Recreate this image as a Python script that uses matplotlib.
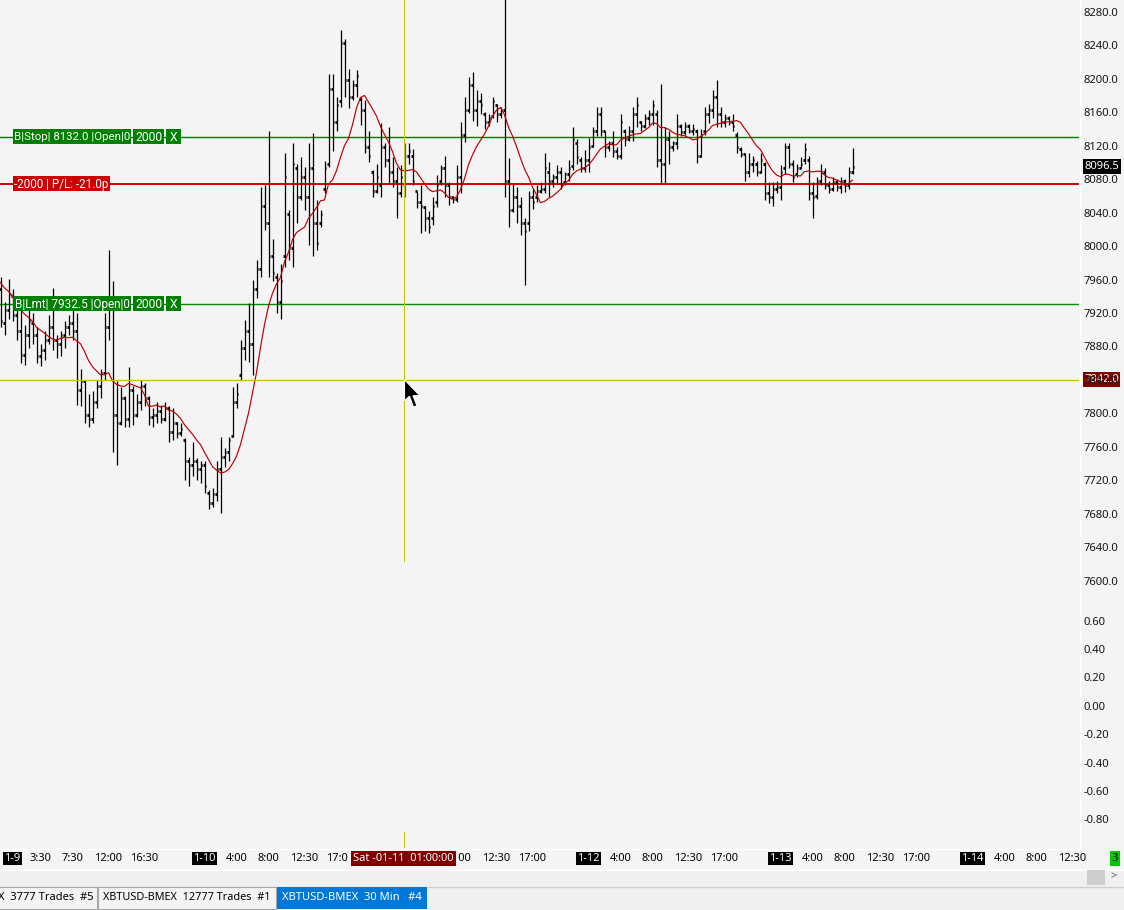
import matplotlib
matplotlib.use("Agg")
import matplotlib.pyplot as plt
import matplotlib.transforms as mtransforms
from matplotlib.patches import Rectangle, Polygon
from matplotlib.lines import Line2D
import numpy as np
import pandas as pd

plt.rcParams['font.family'] = ['Noto Sans', 'DejaVu Sans']

# -------------------------
# Data: XBTUSD-BMEX 30 min bars, bar 0 = 1-9 00:00
# -------------------------
first_bar = -3

opens = [
    7950, 7910, 7925, 7942, 7920, 7900, 7872, 7895, 7910, 7895,
    7870, 7878, 7890, 7905, 7890, 7885, 7895, 7905, 7910, 7900,
    7830, 7840, 7800, 7795, 7815, 7835, 7850, 7905, 7935, 7800,
    7790, 7820, 7795, 7830, 7800, 7815, 7835, 7820, 7798, 7800,
    7805, 7795, 7808, 7780, 7790, 7778, 7770, 7745, 7740, 7745,
    7735, 7740, 7707, 7695, 7705, 7735, 7750, 7755, 7775, 7815,
    7848, 7880, 7900, 7885, 7950, 7975, 8050, 8030, 7990, 7965,
    7935, 7990, 8040, 8000, 8095, 8060, 8085, 8060, 8095, 8030,
    8030, 8070, 8100, 8190, 8150, 8175, 8245, 8200, 8180, 8195,
    8178, 8165, 8120, 8090, 8068, 8075, 8120, 8105, 8090, 8080,
    8065, 8075, 8110, 8110, 8068, 8055, 8048, 8035, 8035, 8055,
    8080, 8095, 8075, 8060, 8058, 8085, 8135, 8165, 8195, 8165,
    8175, 8160, 8150, 8158, 8170, 8160, 8165, 8080, 8045, 8060,
    8050, 8030, 8030, 8060, 8060, 8068, 8070, 8090, 8080, 8085,
    8090, 8078, 8088, 8098, 8125, 8105, 8095, 8105, 8122, 8140,
    8160, 8140, 8120, 8125, 8115, 8110, 8140, 8130, 8140, 8160,
    8150, 8145, 8155, 8160, 8160, 8105, 8100, 8130, 8120, 8125,
    8145, 8138, 8145, 8140, 8140, 8110, 8140, 8160, 8165, 8180,
    8160, 8150, 8155, 8150, 8135, 8118, 8112, 8090, 8100, 8100,
    8090, 8100, 8065, 8060, 8070, 8072, 8095, 8120, 8100, 8088,
    8095, 8105, 8105, 8065, 8062, 8080, 8090, 8075, 8070, 8078,
    8072, 8080, 8075, 8090,
]
highs = [
    7965, 7935, 7962, 7950, 7935, 7928, 7908, 7925, 7922, 7905,
    7885, 7900, 7920, 7952, 7895, 7900, 7912, 7920, 7925, 7922,
    7855, 7842, 7825, 7828, 7842, 7855, 7922, 7997, 7960, 7840,
    7833, 7822, 7857, 7835, 7825, 7842, 7838, 7822, 7808, 7815,
    7812, 7815, 7810, 7808, 7792, 7790, 7772, 7750, 7768, 7748,
    7745, 7745, 7710, 7713, 7745, 7774, 7760, 7774, 7833, 7838,
    7890, 7913, 7934, 7961, 7985, 8072, 8075, 8140, 8010, 7970,
    7980, 8113, 8045, 8125, 8100, 8108, 8096, 8125, 8137, 8057,
    8045, 8104, 8208, 8208, 8180, 8260, 8250, 8214, 8200, 8212,
    8180, 8176, 8140, 8093, 8100, 8149, 8125, 8144, 8108, 8096,
    8099, 8125, 8125, 8118, 8068, 8075, 8050, 8044, 8060, 8087,
    8099, 8110, 8078, 8062, 8099, 8150, 8180, 8204, 8210, 8188,
    8185, 8162, 8160, 8180, 8172, 8168, 8310, 8107, 8076, 8072,
    8060, 8036, 8068, 8070, 8075, 8078, 8113, 8102, 8088, 8099,
    8097, 8090, 8105, 8144, 8130, 8108, 8117, 8131, 8144, 8168,
    8168, 8140, 8128, 8140, 8120, 8160, 8142, 8145, 8168, 8180,
    8152, 8160, 8165, 8176, 8164, 8196, 8144, 8140, 8128, 8160,
    8148, 8150, 8148, 8148, 8142, 8142, 8168, 8172, 8188, 8200,
    8168, 8160, 8158, 8160, 8138, 8120, 8113, 8113, 8110, 8104,
    8113, 8102, 8078, 8078, 8080, 8099, 8125, 8125, 8105, 8100,
    8108, 8125, 8110, 8078, 8085, 8100, 8095, 8080, 8085, 8082,
    8085, 8082, 8096, 8119,
]
lows = [
    7905, 7895, 7915, 7912, 7890, 7862, 7860, 7880, 7885, 7862,
    7858, 7865, 7885, 7878, 7868, 7870, 7880, 7895, 7890, 7812,
    7810, 7790, 7785, 7790, 7808, 7820, 7842, 7890, 7755, 7740,
    7788, 7786, 7786, 7788, 7798, 7806, 7810, 7788, 7786, 7790,
    7790, 7793, 7767, 7770, 7772, 7775, 7722, 7715, 7727, 7722,
    7718, 7706, 7687, 7690, 7697, 7683, 7738, 7745, 7774, 7808,
    7842, 7866, 7863, 7848, 7940, 7965, 8021, 7965, 7960, 7922,
    7915, 7977, 7985, 7977, 8030, 8057, 8045, 8003, 7990, 7997,
    8025, 8065, 8096, 8115, 8140, 8168, 8180, 8167, 8176, 8180,
    8147, 8113, 8102, 8060, 8065, 8060, 8096, 8077, 8072, 8036,
    8060, 8060, 8100, 8075, 8047, 8017, 8020, 8017, 8027, 8048,
    8075, 8060, 8051, 8053, 8055, 8065, 8126, 8161, 8152, 8145,
    8160, 8142, 8145, 8155, 8150, 8155, 8060, 8025, 8043, 8030,
    8015, 7955, 8020, 8046, 8055, 8065, 8065, 8060, 8072, 8076,
    8070, 8075, 8080, 8093, 8100, 8090, 8090, 8090, 8120, 8133,
    8133, 8108, 8115, 8108, 8106, 8106, 8122, 8128, 8128, 8144,
    8140, 8143, 8147, 8147, 8096, 8077, 8077, 8100, 8115, 8118,
    8133, 8135, 8137, 8135, 8101, 8108, 8135, 8149, 8155, 8144,
    8144, 8144, 8147, 8140, 8113, 8108, 8080, 8085, 8090, 8086,
    8089, 8057, 8053, 8050, 8065, 8057, 8088, 8095, 8078, 8085,
    8095, 8100, 8057, 8035, 8058, 8075, 8070, 8065, 8068, 8068,
    8065, 8067, 8070, 8088,
]
closes = [
    7912, 7925, 7945, 7920, 7900, 7872, 7895, 7912, 7895, 7870,
    7878, 7890, 7905, 7890, 7885, 7895, 7905, 7910, 7900, 7830,
    7840, 7800, 7795, 7815, 7835, 7850, 7905, 7935, 7800, 7790,
    7820, 7795, 7830, 7800, 7815, 7835, 7820, 7798, 7800, 7805,
    7795, 7808, 7780, 7790, 7778, 7783, 7745, 7740, 7745, 7735,
    7740, 7715, 7695, 7705, 7735, 7750, 7755, 7770, 7815, 7825,
    7880, 7900, 7885, 7950, 7975, 8050, 8030, 7990, 7970, 7935,
    7960, 8085, 8000, 8100, 8060, 8085, 8060, 8095, 8030, 8005,
    8040, 8095, 8190, 8150, 8170, 8245, 8200, 8180, 8195, 8205,
    8165, 8120, 8110, 8068, 8085, 8120, 8105, 8090, 8080, 8065,
    8085, 8110, 8115, 8080, 8055, 8050, 8035, 8025, 8050, 8075,
    8095, 8075, 8060, 8058, 8085, 8135, 8165, 8195, 8165, 8175,
    8170, 8150, 8155, 8175, 8160, 8165, 8080, 8045, 8060, 8050,
    8030, 8020, 8060, 8055, 8068, 8070, 8095, 8080, 8085, 8090,
    8075, 8088, 8095, 8130, 8108, 8095, 8105, 8120, 8140, 8160,
    8140, 8120, 8125, 8115, 8110, 8150, 8130, 8140, 8160, 8170,
    8145, 8155, 8160, 8170, 8105, 8100, 8130, 8120, 8125, 8145,
    8138, 8145, 8140, 8142, 8110, 8135, 8160, 8165, 8180, 8160,
    8150, 8155, 8150, 8145, 8120, 8112, 8090, 8100, 8105, 8090,
    8105, 8065, 8060, 8070, 8072, 8090, 8120, 8100, 8085, 8095,
    8100, 8118, 8065, 8060, 8080, 8090, 8075, 8070, 8078, 8072,
    8080, 8075, 8090, 8096.5,
]
# closes of the bars just left of the visible window (moving average warm-up)
prior_closes = [7990, 7985, 7975, 7970, 7960, 7955, 7950, 7945, 7940]
ma_len = 10

stop_price = 8132.0
pos_price = 8075.5
limit_price = 7932.5
cross_price = 7842.0
cross_bar = 98
last_price = 8096.5

price_ticks = [8280, 8240, 8200, 8160, 8120, 8080, 8040, 8000, 7960,
               7920, 7880, 7840, 7800, 7760, 7720, 7680, 7640, 7600]
lower_ticks = [0.60, 0.40, 0.20, 0.00, -0.20, -0.40, -0.60, -0.80]

time_bars = [7, 15, 24, 33, 56, 64, 73, 82, 104, 112, 121, 130,
             152, 160, 169, 178, 200, 208, 217, 226, 248, 256, 265]
time_labels = ["3:30", "7:30", "12:00", "16:30", "4:00", "8:00", "12:30", "17:00",
               "4:00", "8:00", "12:30", "17:00", "4:00", "8:00", "12:30", "17:00",
               "4:00", "8:00", "12:30", "17:00", "4:00", "8:00", "12:30"]
date_bars = [0, 48, 96, 144, 192, 240]
date_labels = ["1-9", "1-10", "1-11", "1-12", "1-13", "1-14"]

tabs = ["X  3777 Trades  #5", "XBTUSD-BMEX  12777 Trades  #1", "XBTUSD-BMEX  30 Min   #4"]

# -------------------------
# Figure / panes (pixel layout)
# -------------------------
W, H = 1124, 910
BG = '#f4f4f4'
fig = plt.figure(figsize=(W / 100, H / 100), dpi=100)
fig.patch.set_facecolor(BG)
renderer = fig.canvas.get_renderer()

PANE_R = 1079
PRICE_B = 588
LOWER_B = 848

ax = fig.add_axes([0, 1 - PRICE_B / H, PANE_R / W, PRICE_B / H])
axl = fig.add_axes([0, 1 - LOWER_B / H, PANE_R / W, (LOWER_B - PRICE_B) / H])
for a in (ax, axl):
    a.set_facecolor(BG)
    a.set_xticks([])
    a.set_yticks([])
    for s in a.spines.values():
        s.set_visible(False)

ax.set_xlim(-3.125, (PANE_R - 12.5) / 4.0)
axl.set_xlim(ax.get_xlim())
ax.set_ylim(8280 - (PRICE_B - 13.5) * 1.196, 8280 + 13.5 * 1.196)
axl.set_ylim(-0.8 - (LOWER_B - 821) / 142.1, 0.6 + (622 - PRICE_B) / 142.1)

def anchored(xv, yv, trans):
    # local pixel coords (y downwards) with origin at (xv, yv) of trans
    return mtransforms.Affine2D().scale(1, -1) + mtransforms.ScaledTranslation(xv, yv, trans)

def fit(t, maxw):
    w = t.get_window_extent(renderer).width
    if w > maxw:
        t.set_fontsize(t.get_fontsize() * maxw / w)

pix = mtransforms.IdentityTransform()
yblend = mtransforms.blended_transform_factory(ax.transAxes, ax.transData)
xtr = mtransforms.blended_transform_factory(ax.transData, pix)

# -------------------------
# Bars and moving average
# -------------------------
idx = np.arange(first_bar, first_bar + len(closes))
bar_col = ['#4a4aff' if i == cross_bar else 'black' for i in idx]
ax.vlines(idx, lows, highs, colors=bar_col, lw=0.9, zorder=3)
ax.hlines(opens, idx - 0.45, idx, colors=bar_col, lw=2.0, zorder=3)
ax.hlines(closes, idx, idx + 0.45, colors=bar_col, lw=2.0, zorder=3)

ma = pd.Series(prior_closes + closes).rolling(ma_len).mean().to_numpy()[len(prior_closes):]
ax.plot(idx, ma, color='#c00000', lw=0.85, zorder=4)

# order / position lines
ax.axhline(stop_price, color='#007a00', lw=1.0, zorder=2)
ax.axhline(pos_price, color='#d40000', lw=1.4, zorder=2)
ax.axhline(limit_price, color='#008c00', lw=1.0, zorder=2)

# crosshair (vertical drawn as exact one-pixel columns)
ycol = '#c4c400'
ax.axhline(cross_price, color=ycol, lw=0.9, zorder=6)
ax.add_patch(Rectangle((cross_bar - 0.125, H - 562), 0.25, 562, transform=xtr,
                       facecolor=ycol, edgecolor='none', zorder=6))
axl.add_patch(Rectangle((cross_bar - 0.125, H - LOWER_B), 0.25, 16, transform=xtr,
                        facecolor=ycol, edgecolor='none', zorder=6))

def box(price, x0, w, txt, fc, tc='white', trans=yblend, h=15, z=7,
        family='Roboto', size=8.7):
    t = anchored(0, price, trans)
    ax.add_patch(Rectangle((x0, -h / 2 - 0.5), w, h, transform=t, facecolor=fc,
                           edgecolor='none', clip_on=False, zorder=z))
    tx = ax.text(x0 + w / 2, 0, txt, transform=t, ha='center', va='center', color=tc,
                 fontsize=size, family=family, clip_on=False, zorder=z + 1)
    fit(tx, w - 2)

box(stop_price, 13, 118, "B|Stop| 8132.0 |Open|0", '#008000')
box(stop_price, 133, 31, "2000", '#008000')
box(stop_price, 166, 15, "X", '#008000')
box(pos_price, 13, 97, "-2000 | P/L: -21.0p", '#cc0000')
box(limit_price, 13, 118, "B|Lmt| 7932.5 |Open|0", '#008000')
box(limit_price, 133, 31, "2000", '#008000')
box(limit_price, 166, 15, "X", '#008000')

# mouse cursor
cursor = [(0, 0), (0, 21), (5, 16.5), (9, 27.5), (12.5, 26), (8.5, 16), (15.5, 16)]
ax.add_patch(Polygon(cursor, closed=True, transform=anchored(cross_bar, cross_price, ax.transData),
                     facecolor='black', edgecolor='white', lw=0.8, clip_on=False, zorder=20))

# -------------------------
# Right price scale
# -------------------------
right_price = mtransforms.blended_transform_factory(pix, ax.transData)
right_lower = mtransforms.blended_transform_factory(pix, axl.transData)
clip_price = mtransforms.Bbox.from_extents(PANE_R, H - 585, W, H)
for p in price_ticks:
    t = fig.text(1084, p, f"{p:.1f}", transform=right_price, ha='left', va='center',
                 fontsize=8.1, color='#151515')
    t.set_clip_box(clip_price)
    t.set_clip_on(True)
for v in lower_ticks:
    fig.text(1084, v, f"{v:.2f}", transform=right_lower, ha='left', va='center',
             fontsize=8.1, color='#151515')

box(last_price, 1083, 38, f"{last_price:.1f}", 'black', family='Noto Sans', size=8.1)
box(cross_price, 1083, 37, f"{cross_price:.1f}", '#800000', family='Noto Sans', size=8.1)

# borders
fig.add_artist(Line2D([PANE_R + 0.5, PANE_R + 0.5], [H, H - LOWER_B], transform=pix, color='white', lw=1))
fig.add_artist(Line2D([0, PANE_R + 0.5], [H - LOWER_B - 0.5] * 2, transform=pix, color='white', lw=1))

# -------------------------
# Time scale
# -------------------------
ty = H - 858.5
cross_half = 14   # half width of the crosshair time label, in bars
for b, s in zip(time_bars, time_labels):
    if abs(b - cross_bar) < cross_half - 2:
        continue   # hidden under the crosshair label
    t = ax.text(b, ty, s, transform=xtr, ha='center', va='center', fontsize=8,
                color='black', clip_on=False, zorder=5)
    if abs(b - cross_bar) < cross_half + 4:
        if b < cross_bar:
            t.set_clip_box(mtransforms.Bbox.from_extents(0, 0, 348, H))
        else:
            t.set_clip_box(mtransforms.Bbox.from_extents(458, 0, W, H))
        t.set_clip_on(True)
for b, s in zip(date_bars, date_labels):
    if abs(b - cross_bar) < cross_half - 2:
        continue
    ax.text(b, ty, s, transform=xtr, ha='center', va='center', fontsize=8, color='white',
            clip_on=False, zorder=6,
            bbox=dict(boxstyle='square,pad=0.12', fc='black', ec='none'))
ax.text(cross_bar - 0.3, ty, "Sat -01-11  01:00:00", transform=xtr, ha='center', va='center',
        fontsize=8, color='white', clip_on=False, zorder=9,
        bbox=dict(boxstyle='square,pad=0.2', fc='#800000', ec='none'))
fig.text(1115 / W, 1 - 858.5 / H, "3", ha='center', va='center', fontsize=8, color='black',
         bbox=dict(boxstyle='square,pad=0.15', fc='#00c800', ec='none'))

# -------------------------
# Scroll bar row and tabs
# -------------------------
def prect(x0, y0, x1, y1, fc, ec='none', lw=0, z=1):
    fig.add_artist(Rectangle((x0, H - y1), x1 - x0, y1 - y0, transform=pix,
                             facecolor=fc, edgecolor=ec, lw=lw, zorder=z))

fig.add_artist(Line2D([0, W], [H - 869.5] * 2, transform=pix, color='white', lw=1))
prect(0, 870, W, 886, '#f0f0f0')
prect(1087, 870, 1105, 885, '#cdcdcd', z=2)
fig.text(1114 / W, 1 - 877 / H, ">", ha='center', va='center', fontsize=8,
         color='#606060', fontweight='bold')
prect(0, 886, W, H, '#f0f0f0')
fig.add_artist(Line2D([0, W], [H - 886.5] * 2, transform=pix, color='#d0d0d0', lw=1))
prect(-2, 887, 97, 909, '#f4f4f4', ec='#a8a8a8', lw=0.8, z=2)
prect(98, 887, 276, 909, '#f4f4f4', ec='#a8a8a8', lw=0.8, z=2)
prect(277, 887, 427, 909, '#0078d7', z=2)
t1 = fig.text(94 / W, 1 - 898 / H, tabs[0], ha='right', va='center', fontsize=8, color='black')
t2 = fig.text(187 / W, 1 - 898 / H, tabs[1], ha='center', va='center', fontsize=8, color='black')
t3 = fig.text(352 / W, 1 - 898 / H, tabs[2], ha='center', va='center', fontsize=8, color='white')
fit(t2, 168)
fit(t3, 142)

fig.savefig("out.png", dpi=100, facecolor=fig.get_facecolor())
